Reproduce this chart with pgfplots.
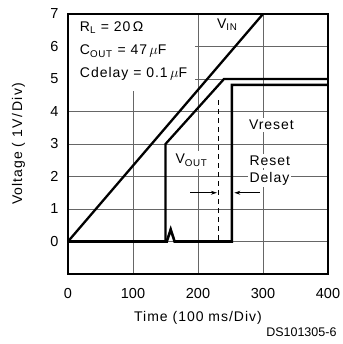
\documentclass[border=0pt]{standalone}
\usepackage{pgfplots}
\pgfplotsset{compat=1.18}
\usepackage{fontspec}
\setmainfont{Liberation Sans}[LetterSpace=7]
\newfontfamily\tickfont{Liberation Sans}
\usetikzlibrary{arrows.meta}
\begin{document}
\begin{tikzpicture}
\begin{axis}[
  set layers,
  at={(0,0)}, anchor=south west,
  scale only axis, width=260pt, height=260pt,
  xmin=0, xmax=400, ymin=-1, ymax=7,
  xtick={0,100,200,300,400}, ytick={0,1,2,3,4,5,6,7},
  grid=major,
  major grid style={black!60, line width=0.65pt},
  major tick length=0pt,
  axis line style={line width=1.2pt},
  /pgf/number format/assume math mode=true,
  tick label style={font=\tickfont\fontsize{14.5}{16}\selectfont},
  xticklabel style={yshift=-11pt},
  yticklabel style={xshift=-6pt},
  ylabel={Voltage ( 1V\,/\,Div)},
  xlabel={Time (100 ms/Div)},
  label style={font=\fontsize{14}{16}\selectfont},
  ylabel style={at={(axis description cs:-0.19,0.5)}, anchor=center},
  xlabel style={at={(axis description cs:0.5,-0.168)}, anchor=center},
  clip=false,
]
\addplot[draw=none, fill=white, on layer=pre main, forget plot] coordinates {(2,4.62) (196,4.62) (196,6.97) (2,6.97)} -- cycle;
% V_IN
\addplot[black, line width=2.3pt] coordinates {(0,0) (300,7)};
% V_OUT
\addplot[black, line width=2.3pt, line join=miter] coordinates {(0,0) (150,0) (150,3) (240,5) (400,5)};
% Vreset
\addplot[black, line width=2.6pt, line join=miter] coordinates {(0,0) (152,0) (158,0.37) (164,0) (252,0) (252,4.82) (400,4.82)};
% dashed marker
\addplot[black, line width=0.9pt, dash pattern=on 5pt off 4pt] coordinates {(231,0.05) (231,4.45)};
% arrows
\draw[-{Stealth[length=6pt,width=4pt]}, line width=0.8pt] (axis cs:188,1.5) -- (axis cs:229,1.5);
\draw[-{Stealth[length=6pt,width=4pt]}, line width=0.8pt] (axis cs:295,1.5) -- (axis cs:256,1.5);
\node[anchor=west, font=\fontsize{14}{16}\selectfont] at (axis cs:13,6.57) {R\textsubscript{L}\ =\ 20\,Ω};
\node[anchor=west, font=\fontsize{14}{16}\selectfont] at (axis cs:13,5.85) {C\textsubscript{OUT}\ =\ 47\,$\mu$F};
\node[anchor=west, font=\fontsize{14}{16}\selectfont] at (axis cs:13,5.15) {Cdelay\ =\ 0.1\,$\mu$F};
\node[fill=white, inner sep=1pt, font=\fontsize{14}{16}\selectfont] at (axis cs:245,6.67) {V\textsubscript{IN}};
\node[fill=white, inner sep=2pt, font=\fontsize{14}{16}\selectfont] at (axis cs:313,3.58) {Vreset};
\node[fill=white, inner sep=3pt, font=\fontsize{14}{16}\selectfont] at (axis cs:190,2.5) {V\textsubscript{OUT}};
\node[fill=white, inner sep=2pt, anchor=west, font=\fontsize{14}{16}\selectfont] at (axis cs:276,2.47) {Reset};
\node[fill=white, inner sep=2pt, anchor=west, font=\fontsize{14}{16}\selectfont] at (axis cs:276,1.94) {Delay};
\end{axis}
\node[anchor=east, font=\tickfont\fontsize{12.5}{14}\selectfont] at (272pt,-58pt) {DS101305-6};
\pgfresetboundingbox
\path[use as bounding box] (-68pt,-70pt) rectangle (274pt,274pt);
\end{tikzpicture}
\end{document}
